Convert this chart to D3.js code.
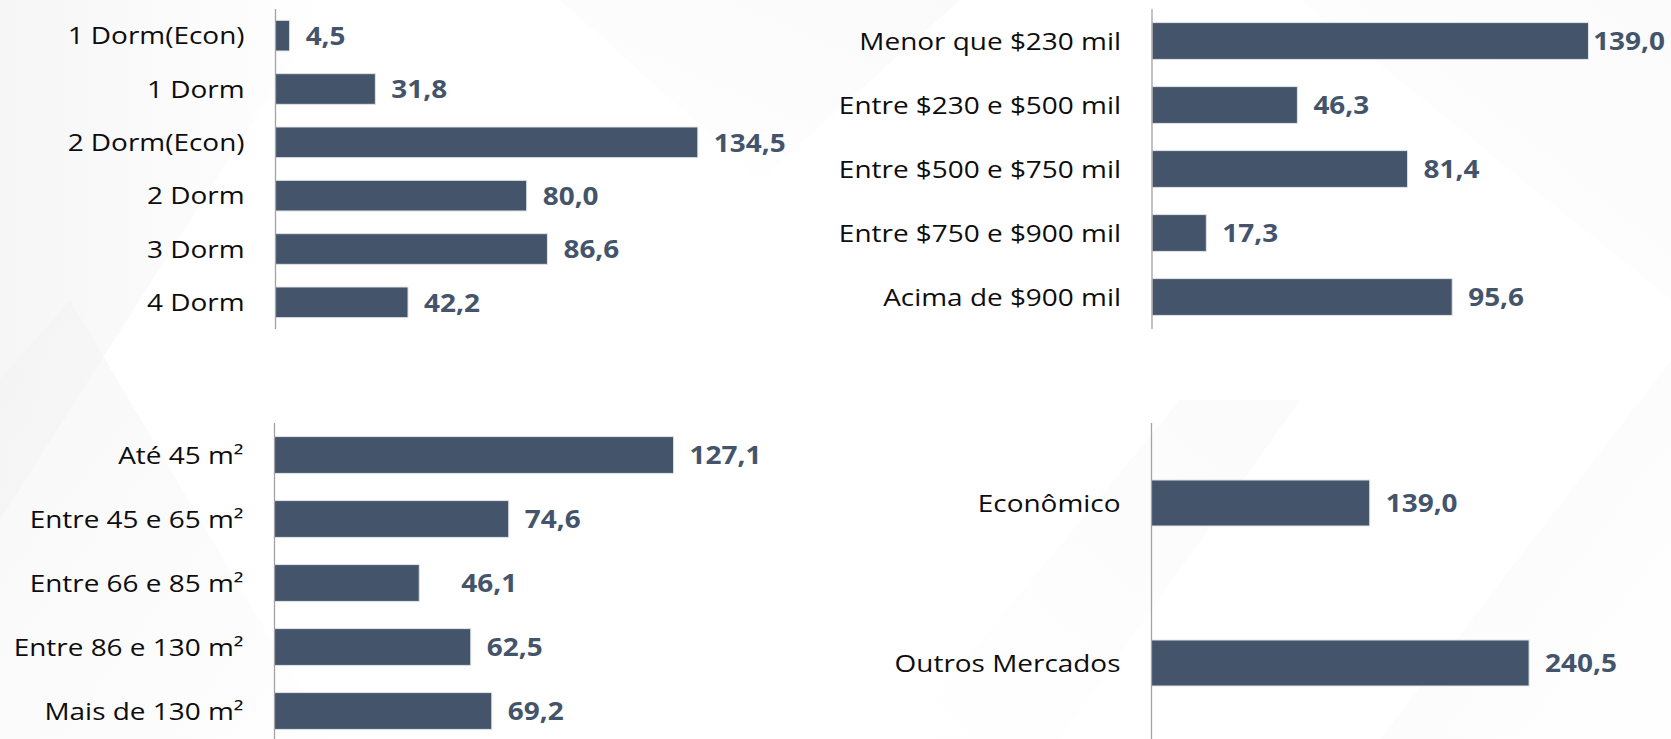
<!DOCTYPE html>
<html>
<head>
<meta charset="utf-8">
<script src="https://cdn.jsdelivr.net/npm/d3@7"></script>
<style>
  html, body { margin: 0; padding: 0; background: #ffffff; overflow: hidden; }
  svg { display: block; }
</style>
</head>
<body>
<div id="chart"></div>
<script>
// ---------- data ----------
const dormCats  = ["1 Dorm(Econ)", "1 Dorm", "2 Dorm(Econ)", "2 Dorm", "3 Dorm", "4 Dorm"];
const dormVals  = [4.5, 31.8, 134.5, 80.0, 86.6, 42.2];

const priceCats = ["Menor que $230 mil", "Entre $230 e $500 mil", "Entre $500 e $750 mil", "Entre $750 e $900 mil", "Acima de $900 mil"];
const priceVals = [139.0, 46.3, 81.4, 17.3, 95.6];

const areaCats  = ["Até 45 m²", "Entre 45 e 65 m²", "Entre 66 e 85 m²", "Entre 86 e 130 m²", "Mais de 130 m²"];
const areaVals  = [127.1, 74.6, 46.1, 62.5, 69.2];

const segCats   = ["Econômico", "Outros Mercados"];
const segVals   = [139.0, 240.5];

// ---------- layout / style ----------
const W = 1671, H = 739;
const BAR = "#44546A";
const FONT = "'Open Sans', 'Noto Sans', sans-serif";
const FS = 24.3, SX = 1.15;

const locale = d3.formatLocale({decimal: ",", thousands: ".", grouping: [3], currency: ["R$", ""]});
const fmt = locale.format(".1f");

const svg = d3.select("#chart").append("svg").attr("width", W).attr("height", H);

// subtle geometric background
const defs = svg.append("defs");
function grad(id, x1, y1, x2, y2, c1, c2) {
  const g = defs.append("linearGradient").attr("id", id)
    .attr("x1", x1).attr("y1", y1).attr("x2", x2).attr("y2", y2);
  g.append("stop").attr("offset", "0%").attr("stop-color", c1);
  g.append("stop").attr("offset", "100%").attr("stop-color", c2);
}
grad("g1", "0%", "0%", "100%", "0%", "#f0f0f0", "#ffffff");
grad("g2", "0%", "0%", "100%", "100%", "#f2f2f2", "#fefefe");
grad("g3", "100%", "0%", "0%", "100%", "#f5f5f5", "#ffffff");
const bg = svg.append("g");
bg.append("rect").attr("width", W).attr("height", H).attr("fill", "#ffffff");
bg.append("polygon").attr("points", "0,0 330,0 0,520").attr("fill", "url(#g1)").attr("opacity", 0.6);
bg.append("polygon").attr("points", "0,380 70,300 330,739 0,739").attr("fill", "url(#g2)").attr("opacity", 0.6);
bg.append("polygon").attr("points", "560,0 960,0 760,180").attr("fill", "url(#g3)").attr("opacity", 0.5);
bg.append("polygon").attr("points", "900,739 1180,400 1300,400 1060,739").attr("fill", "url(#g3)").attr("opacity", 0.45);
bg.append("polygon").attr("points", "1380,739 1671,360 1671,739").attr("fill", "url(#g2)").attr("opacity", 0.4);
bg.append("polygon").attr("points", "1300,0 1671,0 1671,300").attr("fill", "url(#g3)").attr("opacity", 0.4);

const panels = [
  {cats: dormCats,  vals: dormVals,  axisX: 275.5,  y0: 9,   y1: 329, axisEnd: 329, xMax: 160, pad: 0.425,  extraDx: {}},
  {cats: priceCats, vals: priceVals, axisX: 1152,   y0: 9,   y1: 329, axisEnd: 329, xMax: 160, pad: 0.425,  extraDx: {}},
  {cats: areaCats,  vals: areaVals,  axisX: 274.5,  y0: 423, y1: 743, axisEnd: 739, xMax: 160, pad: 0.425,  extraDx: {2: 26}},
  {cats: segCats,   vals: segVals,   axisX: 1151.5, y0: 423, y1: 743, axisEnd: 739, xMax: 320, pad: 0.7125, extraDx: {}}
];
const PLOT_W = 502.4;

panels.forEach(p => {
  const data = p.cats.map((c, i) => ({c, v: p.vals[i], i}));
  const x = d3.scaleLinear().domain([0, p.xMax]).range([p.axisX, p.axisX + PLOT_W]);
  const y = d3.scaleBand().domain(p.cats).range([p.y0, p.y1])
    .paddingInner(p.pad).paddingOuter(p.pad / 2);

  const g = svg.append("g");

  g.selectAll("rect.bar").data(data).join("rect")
    .attr("class", "bar")
    .attr("x", x(0))
    .attr("y", d => y(d.c))
    .attr("width", d => x(d.v) - x(0))
    .attr("height", y.bandwidth())
    .attr("fill", BAR)
    .attr("stroke", "#dfe3e8")
    .attr("stroke-width", 1);

  // axis line (category axis)
  g.append("line")
    .attr("x1", p.axisX).attr("x2", p.axisX)
    .attr("y1", p.y0).attr("y2", p.axisEnd)
    .attr("stroke", "#a3a3a3").attr("stroke-width", 1.3);

  // category labels
  g.selectAll("g.cat").data(data).join("g")
    .attr("class", "cat")
    .attr("transform", d => `translate(${p.axisX - 31},${y(d.c) + y.bandwidth() / 2}) scale(${SX},1)`)
    .append("text")
    .attr("text-anchor", "end")
    .attr("dy", "0.36em")
    .attr("font-family", FONT)
    .attr("font-size", FS)
    .attr("fill", "#0d0d0d")
    .text(d => d.c);

  // value labels
  const vl = g.selectAll("g.val").data(data).join("g").attr("class", "val");
  vl.append("text")
    .attr("text-anchor", "start")
    .attr("dy", "0.38em")
    .attr("font-family", FONT)
    .attr("font-weight", 700)
    .attr("font-size", FS)
    .attr("fill", BAR)
    .text(d => fmt(d.v));
  vl.attr("transform", function(d) {
    const w = this.querySelector("text").getComputedTextLength() * SX;
    const extra = p.extraDx[d.i] || 0;
    const xx = Math.min(x(d.v) + 16 + extra, W - 6 - w);
    return `translate(${xx},${y(d.c) + y.bandwidth() / 2}) scale(${SX},1)`;
  });
});
</script>
</body>
</html>
